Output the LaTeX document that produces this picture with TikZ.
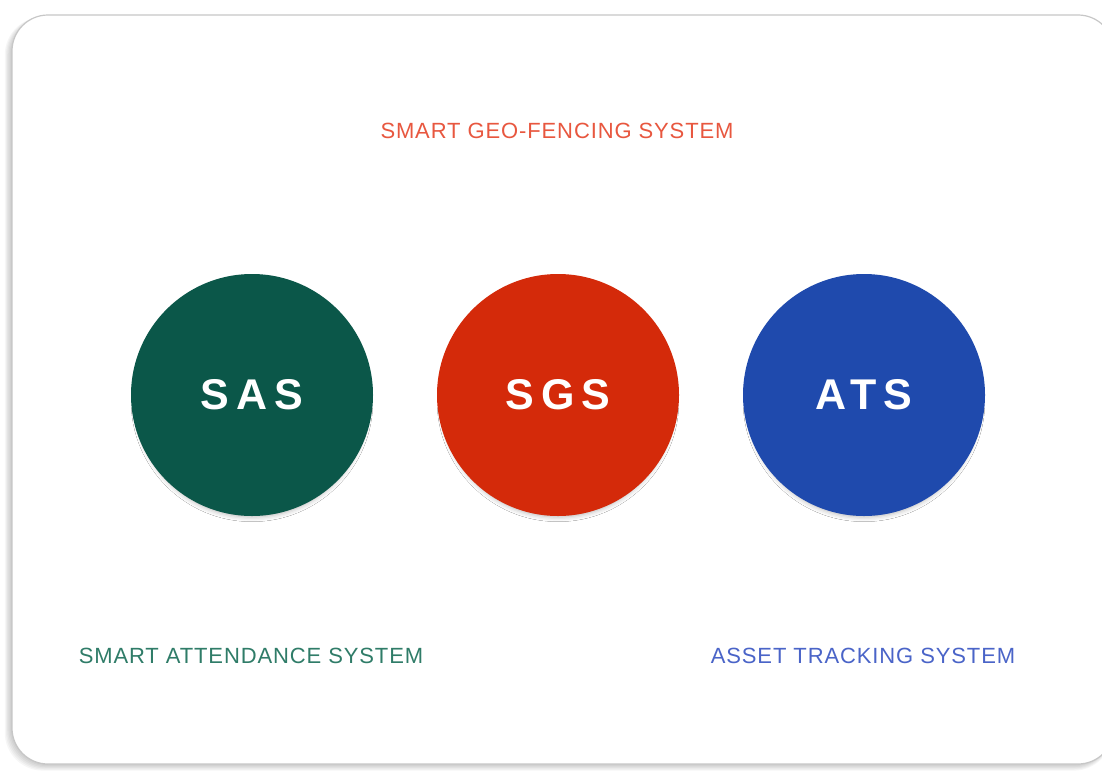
\documentclass[tikz,border=0pt]{standalone}
\usepackage{fontspec}
\setmainfont{Liberation Sans}
\newfontfamily\labelfont[LetterSpace=4]{Liberation Sans}
\newfontfamily\circfont[LetterSpace=16]{Liberation Sans}
\usetikzlibrary{shadows.blur}
\definecolor{sasgreen}{HTML}{0B5749}
\definecolor{sgsred}{HTML}{D42A0A}
\definecolor{atsblue}{HTML}{1F4AAD}
\definecolor{sastext}{HTML}{2F7C68}
\definecolor{sgstext}{HTML}{E8573F}
\definecolor{atstext}{HTML}{4A64C8}
\tikzset{
  x=1pt, y=-1pt,
  disc/.style={circle, minimum size=242pt, inner sep=0pt, text=white,
    font=\circfont\bfseries\fontsize{43}{43}\selectfont,
    blur shadow={shadow xshift=0pt, shadow yshift=-6pt, shadow blur radius=5pt, shadow scale=0.96, shadow opacity=30}},
  caption/.style={font=\labelfont\fontsize{22}{22}\selectfont, inner sep=0pt}
}
\begin{document}
\begin{tikzpicture}
\useasboundingbox (0,0) rectangle (1102,771);
\fill[white] (0,0) rectangle (1102,771);
% card shadow
\foreach \i in {1,...,6}{
  \fill[black, opacity=0.035, rounded corners=38pt] (12-\i*1.2,17) rectangle (1112,764+\i*1.1);
}
\fill[white, draw=black!22, line width=1.2pt, rounded corners=36pt] (12,15) rectangle (1114,764);
% circles
\node[disc, fill=sasgreen] (sas) at (252,395) {SAS};
\node[disc, fill=sgsred]   (sgs) at (558,395) {SGS};
\node[disc, fill=atsblue]  (ats) at (864,395) {ATS};
% labels
\node[caption, text=sgstext] (sgslabel) at (557,131) {SMART GEO-FENCING SYSTEM};
\node[caption, text=sastext] (saslabel) at (251,656) {SMART ATTENDANCE SYSTEM};
\node[caption, text=atstext] (atslabel) at (863,656) {ASSET TRACKING SYSTEM};
\end{tikzpicture}
\end{document}
